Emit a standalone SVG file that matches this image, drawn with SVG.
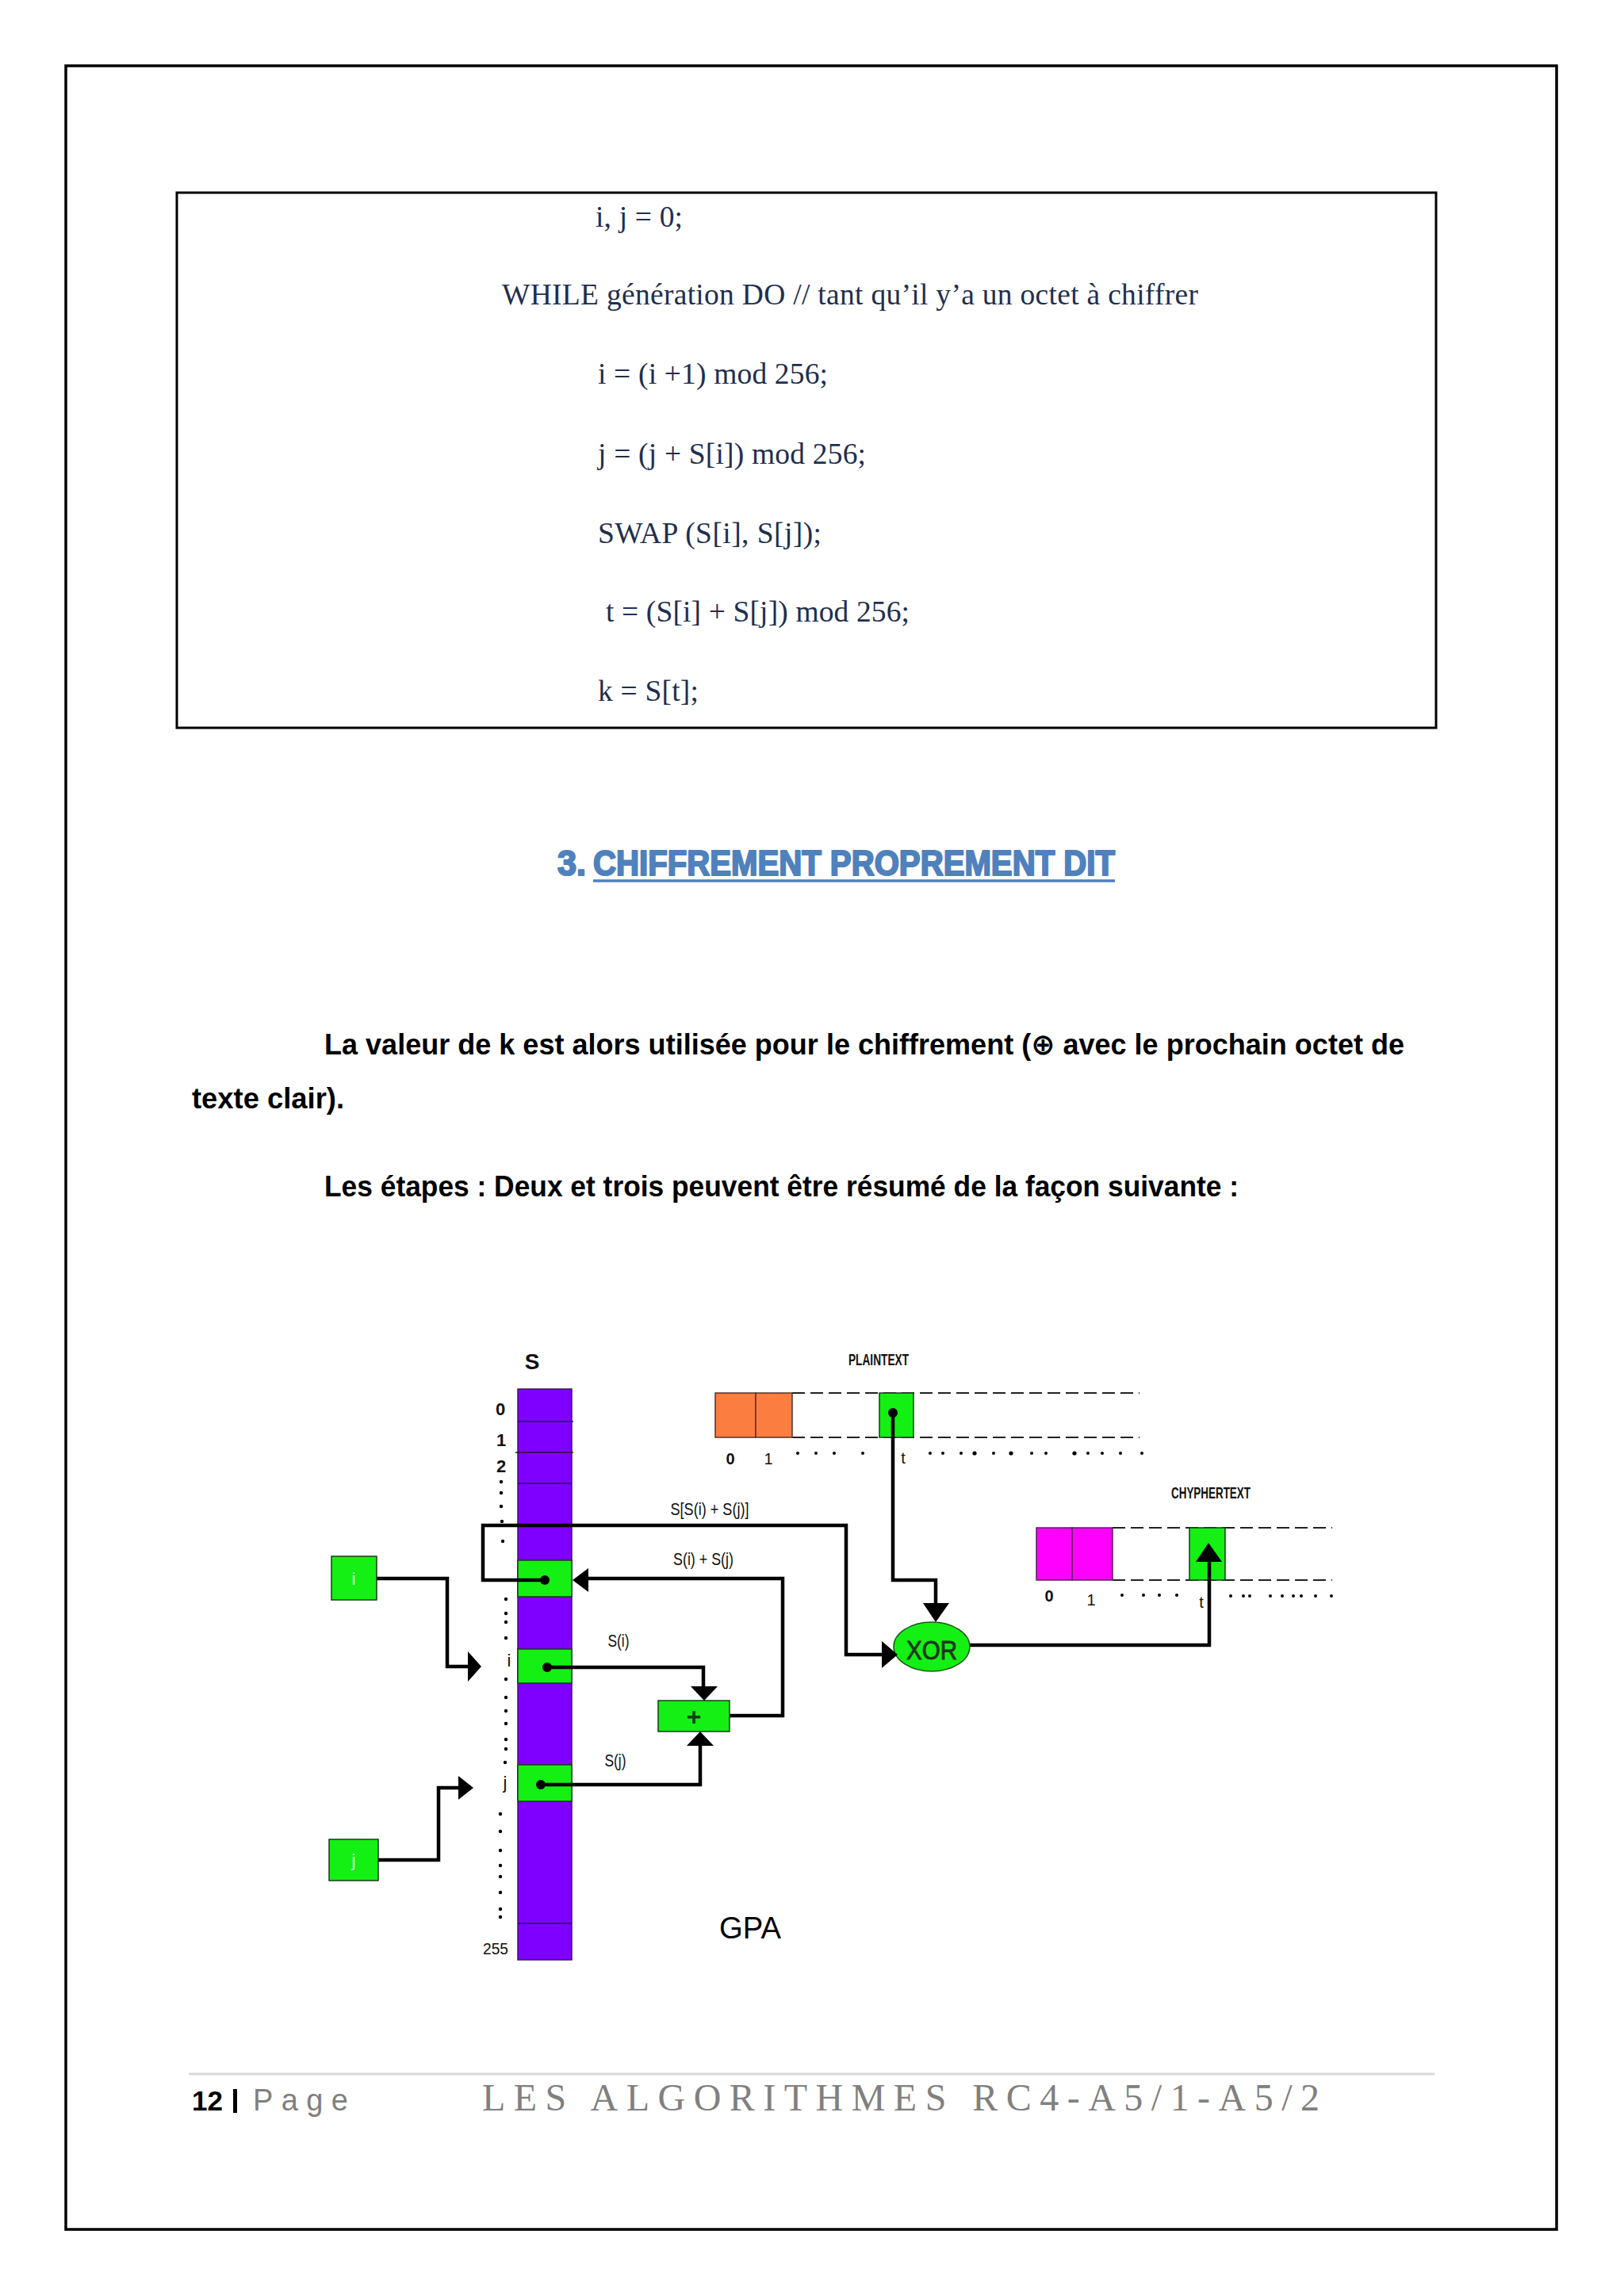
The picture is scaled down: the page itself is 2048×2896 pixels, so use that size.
<svg xmlns="http://www.w3.org/2000/svg" width="2048" height="2896" viewBox="0 0 2048 2896">
<style>
.serif{font-family:"Liberation Serif","Times New Roman",serif;fill:#1F2F4F;font-size:37.5px}
.body{font-family:"Liberation Sans Narrow","Liberation Sans","DejaVu Sans",sans-serif;font-size:37px;font-weight:600;fill:#000}
.cond{font-family:"Liberation Sans Narrow","Liberation Sans",sans-serif;font-weight:bold;fill:#111}
.condn{font-family:"Liberation Sans Narrow","Liberation Sans",sans-serif;fill:#111}
.ln{fill:none;stroke:#000;stroke-width:4.5;stroke-linejoin:miter}
.ah{fill:#000}
.grn{fill:#14F014;stroke:#1a3a1a;stroke-width:1.5}
.dot{fill:#000}
.dash{stroke:#222;stroke-width:2;stroke-dasharray:16 7;fill:none}
.head{font-family:"Liberation Sans",sans-serif;font-weight:900;font-size:45px;fill:#4F81BD;stroke:#4F81BD;stroke-width:2.2;stroke-linejoin:round}
</style>
<rect x="0" y="0" width="2048" height="2896" fill="#fff"/>
<rect id="page-border" x="83" y="83" width="1880" height="2729" fill="none" stroke="#000" stroke-width="3.5"/>

<g id="code-box">
<rect x="223" y="243" width="1588" height="675" fill="none" stroke="#000" stroke-width="3"/>
<text class="serif" x="751" y="286" textLength="110">i, j = 0;</text>
<text class="serif" x="633" y="384" textLength="878">WHILE génération DO  // tant qu’il y’a un octet à chiffrer</text>
<text class="serif" x="754" y="484" textLength="290">i = (i +1) mod 256;</text>
<text class="serif" x="754" y="585" textLength="338">j = (j + S[i]) mod 256;</text>
<text class="serif" x="754" y="685" textLength="282">SWAP (S[i], S[j]);</text>
<text class="serif" x="764" y="784" textLength="383">t = (S[i] + S[j]) mod 256;</text>
<text class="serif" x="754" y="884" textLength="127">k = S[t];</text>
</g>

<g id="heading">
<text class="head" x="703" y="1104" textLength="36" lengthAdjust="spacingAndGlyphs">3.</text>
<text class="head" x="748" y="1104" textLength="658" lengthAdjust="spacingAndGlyphs">CHIFFREMENT PROPREMENT DIT</text>
<line x1="748" y1="1111" x2="1406" y2="1111" stroke="#4F81BD" stroke-width="3.5"/>
</g>

<g id="paragraph">
<text class="body" x="409" y="1330" textLength="1362" lengthAdjust="spacingAndGlyphs">La valeur de k est alors utilisée pour le chiffrement (⊕ avec le prochain octet de</text>
<text class="body" x="242" y="1398" textLength="192" lengthAdjust="spacingAndGlyphs">texte clair).</text>
<text class="body" x="409" y="1509" textLength="1153" lengthAdjust="spacingAndGlyphs">Les étapes : Deux et trois peuvent être résumé de la façon suivante :</text>
</g>

<g id="S-array">
<text class="cond" x="671" y="1727" font-size="28" text-anchor="middle">S</text>
<rect x="653" y="1752" width="68" height="720" fill="#7F00FF" stroke="#3a1a5a" stroke-width="1.5"/>
<g stroke="#2a1040" stroke-width="1.5">
<line x1="653" y1="1793" x2="723" y2="1793"/>
<line x1="650" y1="1832" x2="723" y2="1832"/>
<line x1="653" y1="1871" x2="721" y2="1871"/>
<line x1="653" y1="2426" x2="721" y2="2426"/>
</g>
<text class="cond" x="631" y="1785" font-size="22" text-anchor="middle">0</text>
<text class="cond" x="632" y="1824" font-size="22" text-anchor="middle">1</text>
<text class="cond" x="632" y="1857" font-size="22" text-anchor="middle">2</text>
<text class="condn" x="642" y="2102" font-size="22" text-anchor="middle">i</text>
<text class="condn" x="637" y="2256" font-size="22" text-anchor="middle">j</text>
<text class="condn" x="625" y="2465" font-size="20" text-anchor="middle" textLength="32" lengthAdjust="spacingAndGlyphs">255</text>
<g class="dot">
<circle cx="632" cy="1869" r="2.2"/><circle cx="632" cy="1883" r="2.2"/><circle cx="632" cy="1900" r="2.2"/><circle cx="633" cy="1919" r="2.2"/><circle cx="634" cy="1944" r="2.2"/>
<circle cx="638" cy="2017" r="2.2"/><circle cx="638" cy="2035" r="2.2"/><circle cx="638" cy="2046" r="2.2"/><circle cx="638" cy="2066" r="2.2"/>
<circle cx="638" cy="2118" r="2.2"/><circle cx="638" cy="2141" r="2.2"/><circle cx="638" cy="2158" r="2.2"/><circle cx="638" cy="2174" r="2.2"/><circle cx="638" cy="2194" r="2.2"/><circle cx="638" cy="2206" r="2.2"/><circle cx="637" cy="2223" r="2.2"/>
<circle cx="631" cy="2288" r="2.2"/><circle cx="631" cy="2310" r="2.2"/><circle cx="631" cy="2334" r="2.2"/><circle cx="631" cy="2353" r="2.2"/><circle cx="631" cy="2367" r="2.2"/><circle cx="631" cy="2387" r="2.2"/><circle cx="631" cy="2408" r="2.2"/><circle cx="631" cy="2418" r="2.2"/>
</g>
</g>

<g id="cell-t"><rect class="grn" x="653" y="1968" width="68" height="46"/></g>
<g id="cell-i"><rect class="grn" x="653" y="2080" width="68" height="43"/></g>
<g id="cell-j"><rect class="grn" x="653" y="2226" width="68" height="46"/></g>

<g id="box-i">
<rect class="grn" x="418" y="1963" width="57" height="55"/>
<text x="446" y="1999" font-family="Liberation Sans, sans-serif" font-size="22" fill="#d8ffd8" text-anchor="middle">i</text>
</g>
<g id="box-j">
<rect class="grn" x="415" y="2320" width="62" height="52"/>
<text x="446" y="2354" font-family="Liberation Sans, sans-serif" font-size="22" fill="#d8ffd8" text-anchor="middle">j</text>
</g>

<g id="adder">
<rect class="grn" x="830" y="2145" width="90" height="39"/>
<text x="875" y="2176" font-family="Liberation Sans, sans-serif" font-weight="bold" font-size="32" fill="#1a3a1a" text-anchor="middle">+</text>
</g>

<g id="xor">
<ellipse cx="1175" cy="2077" rx="48" ry="31" fill="#14F014" stroke="#1a5a1a" stroke-width="1.5"/>
<text x="1175" y="2093" font-family="Liberation Sans Narrow, Liberation Sans, sans-serif" font-size="34" fill="#1a3a1a" stroke="#1a3a1a" stroke-width="1" text-anchor="middle" textLength="64" lengthAdjust="spacingAndGlyphs">XOR</text>
</g>

<g id="plaintext">
<text class="cond" x="1108" y="1722" font-size="21" text-anchor="middle" textLength="76" lengthAdjust="spacingAndGlyphs">PLAINTEXT</text>
<line class="dash" x1="999" y1="1757" x2="1437" y2="1757"/>
<line class="dash" x1="999" y1="1813" x2="1437" y2="1813"/>
<rect x="902" y="1757" width="51" height="56" fill="#FB7D40" stroke="#5a3020" stroke-width="1.5"/>
<rect x="953" y="1757" width="46" height="56" fill="#FB7D40" stroke="#5a3020" stroke-width="1.5"/>
<rect class="grn" x="1109" y="1757" width="43" height="56"/>
<text class="cond" x="921" y="1847" font-size="20" text-anchor="middle">0</text>
<text class="condn" x="969" y="1847" font-size="20" text-anchor="middle">1</text>
<text class="condn" x="1139" y="1846" font-size="20" text-anchor="middle">t</text>
<g class="dot">
<circle cx="1006" cy="1833" r="2"/><circle cx="1029" cy="1833" r="2"/><circle cx="1052" cy="1833" r="2"/><circle cx="1088" cy="1833" r="2"/>
<circle cx="1173" cy="1833" r="2"/><circle cx="1189" cy="1833" r="2"/><circle cx="1212" cy="1833" r="2"/><circle cx="1229" cy="1833" r="2.6"/><circle cx="1253" cy="1833" r="2"/><circle cx="1275" cy="1833" r="2.6"/><circle cx="1301" cy="1833" r="2"/><circle cx="1319" cy="1833" r="2"/><circle cx="1355" cy="1833" r="2.6"/><circle cx="1372" cy="1833" r="2"/><circle cx="1390" cy="1833" r="2"/><circle cx="1413" cy="1833" r="2"/><circle cx="1440" cy="1833" r="2"/>
</g>
</g>

<g id="ciphertext">
<text class="cond" x="1527" y="1890" font-size="21" text-anchor="middle" textLength="100" lengthAdjust="spacingAndGlyphs">CHYPHERTEXT</text>
<line class="dash" x1="1403" y1="1927" x2="1680" y2="1927"/>
<line class="dash" x1="1403" y1="1993" x2="1680" y2="1993"/>
<rect x="1307" y="1927" width="45" height="66" fill="#FF00FF" stroke="#5a205a" stroke-width="1.5"/>
<rect x="1352" y="1927" width="51" height="66" fill="#FF00FF" stroke="#5a205a" stroke-width="1.5"/>
<rect class="grn" x="1500" y="1927" width="45" height="66"/>
<text class="cond" x="1323" y="2020" font-size="20" text-anchor="middle">0</text>
<text class="condn" x="1376" y="2025" font-size="20" text-anchor="middle">1</text>
<text class="condn" x="1515" y="2028" font-size="20" text-anchor="middle">t</text>
<g class="dot">
<circle cx="1415" cy="2012" r="2"/><circle cx="1442" cy="2012" r="2"/><circle cx="1462" cy="2012" r="2"/><circle cx="1484" cy="2012" r="2"/>
<circle cx="1552" cy="2013" r="2"/><circle cx="1568" cy="2013" r="2"/><circle cx="1576" cy="2013" r="2"/><circle cx="1602" cy="2013" r="2"/><circle cx="1617" cy="2013" r="2"/><circle cx="1631" cy="2013" r="2"/><circle cx="1641" cy="2013" r="2"/><circle cx="1659" cy="2013" r="2"/><circle cx="1679" cy="2013" r="2"/>
</g>
</g>

<g id="connectors">
<path class="ln" d="M475,1991 H564 V2102 H592"/>
<polygon class="ah" points="590,2083 607,2102 590,2121"/>
<path class="ln" d="M477,2346 H553 V2255 H580"/>
<polygon class="ah" points="578,2240 597,2255 578,2270"/>
<path class="ln" d="M690,2103 H887 V2130"/>
<polygon class="ah" points="871,2127 905,2127 888,2145"/>
<path class="ln" d="M682,2251 H883 V2200"/>
<polygon class="ah" points="866,2202 900,2202 883,2184"/>
<path class="ln" d="M920,2164 H987 V1991 H740"/>
<polygon class="ah" points="742,1978 742,2008 722,1993"/>
<path class="ln" d="M687,1993 H609 V1924 H1067 V2087 H1114"/>
<polygon class="ah" points="1112,2070 1112,2104 1132,2087"/>
<path class="ln" d="M1126,1782 V1993 H1180 V2025"/>
<polygon class="ah" points="1164,2022 1197,2022 1180,2046"/>
<path class="ln" d="M1223,2075 H1525 V1968"/>
<polygon class="ah" points="1508,1970 1541,1970 1524,1946"/>
<g class="dot">
<circle cx="687" cy="1993" r="6"/>
<circle cx="690" cy="2103" r="6"/>
<circle cx="682" cy="2251" r="6"/>
<circle cx="1126" cy="1782" r="6"/>
</g>
<text class="condn" x="895" y="1911" font-size="22" text-anchor="middle" textLength="99" lengthAdjust="spacingAndGlyphs">S[S(i) + S(j)]</text>
<text class="condn" x="887" y="1974" font-size="22" text-anchor="middle" textLength="76" lengthAdjust="spacingAndGlyphs">S(i) + S(j)</text>
<text class="condn" x="780" y="2077" font-size="22" text-anchor="middle" textLength="27" lengthAdjust="spacingAndGlyphs">S(i)</text>
<text class="condn" x="776" y="2228" font-size="22" text-anchor="middle" textLength="27" lengthAdjust="spacingAndGlyphs">S(j)</text>
</g>

<text id="gpa" x="907" y="2445" font-family="Liberation Sans, sans-serif" font-size="39" fill="#000" textLength="78" lengthAdjust="spacingAndGlyphs">GPA</text>

<g id="footer">
<line x1="238" y1="2616" x2="1809" y2="2616" stroke="#D9D9D9" stroke-width="3"/>
<text x="242" y="2662" font-family="Liberation Sans, sans-serif" font-weight="bold" font-size="35" fill="#000" textLength="39" lengthAdjust="spacingAndGlyphs">12</text>
<rect x="294" y="2635" width="5" height="30" fill="#000"/>
<text x="319" y="2662" font-family="Liberation Sans, sans-serif" font-size="38" fill="#7F7F7F" textLength="120">Page</text>
<text x="608" y="2662" font-family="Liberation Serif, serif" font-size="48" fill="#808080" textLength="1056">LES ALGORITHMES RC4-A5/1-A5/2</text>
</g>
</svg>
